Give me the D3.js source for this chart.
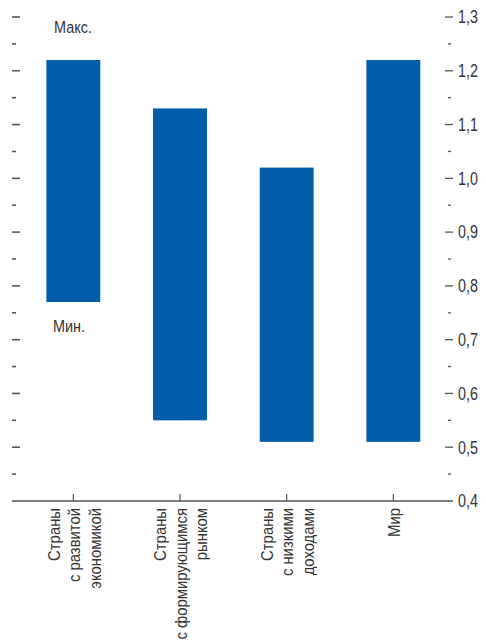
<!DOCTYPE html>
<html>
<head>
<meta charset="utf-8">
<script src="https://cdn.jsdelivr.net/npm/d3@7"></script>
<style>
  html, body { margin: 0; padding: 0; background: #fff; }
  svg { display: block; }
  text { font-family: "Liberation Sans", Arial, sans-serif; fill: #333; }
</style>
</head>
<body>
<svg id="chart" width="486" height="644"></svg>
<script>
// Range of the indicator by country group: minimum and maximum
const categories = [
  ["Страны", "с развитой", "экономикой"],
  ["Страны", "с формирующимся", "рынком"],
  ["Страны", "с низкими", "доходами"],
  ["Мир"]
];
const minValues = [0.77, 0.55, 0.51, 0.51];
const maxValues = [1.22, 1.13, 1.02, 1.22];
const majorTicks = [0.4, 0.5, 0.6, 0.7, 0.8, 0.9, 1.0, 1.1, 1.2, 1.3];
const minorTicks = [0.45, 0.55, 0.65, 0.75, 0.85, 0.95, 1.05, 1.15, 1.25];
const labelMax = "Макс.";
const labelMin = "Мин.";

const svg = d3.select("#chart");
const barColor = "#005dac";
const axisColor = "#555";
// condensed look: horizontal squeeze of the glyphs
const squeeze = 0.85;
const catSqueeze = 0.9;

const y = d3.scaleLinear().domain([0.4, 1.3]).range([501, 17]);
const x = d3.scalePoint()
  .domain(d3.range(categories.length))
  .range([20, 446.67])
  .padding(0.5);
const barW = x.step() * 0.505;

// Bars spanning min..max
svg.append("g").selectAll("rect")
  .data(d3.range(categories.length))
  .join("rect")
  .attr("x", i => x(i) - barW / 2)
  .attr("width", barW)
  .attr("y", i => y(maxValues[i]))
  .attr("height", i => y(minValues[i]) - y(maxValues[i]))
  .attr("fill", barColor);

// Left tick marks (no labels)
const left = svg.append("g").attr("stroke", axisColor).attr("stroke-width", 1.6);
left.selectAll("line.maj").data(majorTicks.filter(v => v > 0.4)).join("line")
  .attr("class", "maj")
  .attr("x1", 12).attr("x2", 20)
  .attr("y1", d => y(d)).attr("y2", d => y(d));
left.selectAll("line.min").data(minorTicks).join("line")
  .attr("class", "min")
  .attr("x1", 12).attr("x2", 16)
  .attr("y1", d => y(d)).attr("y2", d => y(d));

// Right axis: ticks and labels
const right = svg.append("g");
right.selectAll("line.maj").data(majorTicks.filter(v => v > 0.4)).join("line")
  .attr("x1", 445).attr("x2", 453)
  .attr("y1", d => y(d)).attr("y2", d => y(d))
  .attr("stroke", axisColor).attr("stroke-width", 1.3);
right.selectAll("line.min").data(minorTicks).join("line")
  .attr("x1", 448).attr("x2", 451)
  .attr("y1", d => y(d)).attr("y2", d => y(d))
  .attr("stroke", axisColor).attr("stroke-width", 1.3);
right.selectAll("text").data(majorTicks).join("text")
  .attr("transform", d => `translate(458,${y(d)}) scale(0.82,1)`)
  .attr("dy", "0.36em")
  .attr("font-size", 17.5)
  .text(d => d3.format(".1f")(d).replace(".", ","));

// Bottom axis line with category ticks
svg.append("line")
  .attr("x1", 12).attr("x2", 453)
  .attr("y1", y(0.4)).attr("y2", y(0.4))
  .attr("stroke", axisColor).attr("stroke-width", 1.6);
svg.append("g").selectAll("line").data(d3.range(categories.length)).join("line")
  .attr("x1", i => x(i)).attr("x2", i => x(i))
  .attr("y1", y(0.4) - 7).attr("y2", y(0.4))
  .attr("stroke", axisColor).attr("stroke-width", 1.2);

// Rotated category labels
const lineH = 20.5;
const catG = svg.append("g").selectAll("text")
  .data(categories)
  .join("text")
  .attr("transform", (d, i) => `translate(${x(i) + 1},508) rotate(-90) scale(${catSqueeze},1)`)
  .attr("text-anchor", "end")
  .attr("font-size", 16.5);
catG.each(function(lines) {
  const t = d3.select(this);
  lines.forEach((ln, k) => {
    t.append("tspan")
      .attr("x", 0)
      .attr("y", (k - (lines.length - 1) / 2) * lineH)
      .attr("dy", "0.35em")
      .text(ln);
  });
});

// Max / min annotations next to the first bar
svg.append("text").attr("transform", `translate(54,32.5) scale(${squeeze},1)`)
  .attr("font-size", 17).text(labelMax);
svg.append("text").attr("transform", `translate(53,332) scale(${squeeze},1)`)
  .attr("font-size", 17).text(labelMin);
</script>
</body>
</html>
